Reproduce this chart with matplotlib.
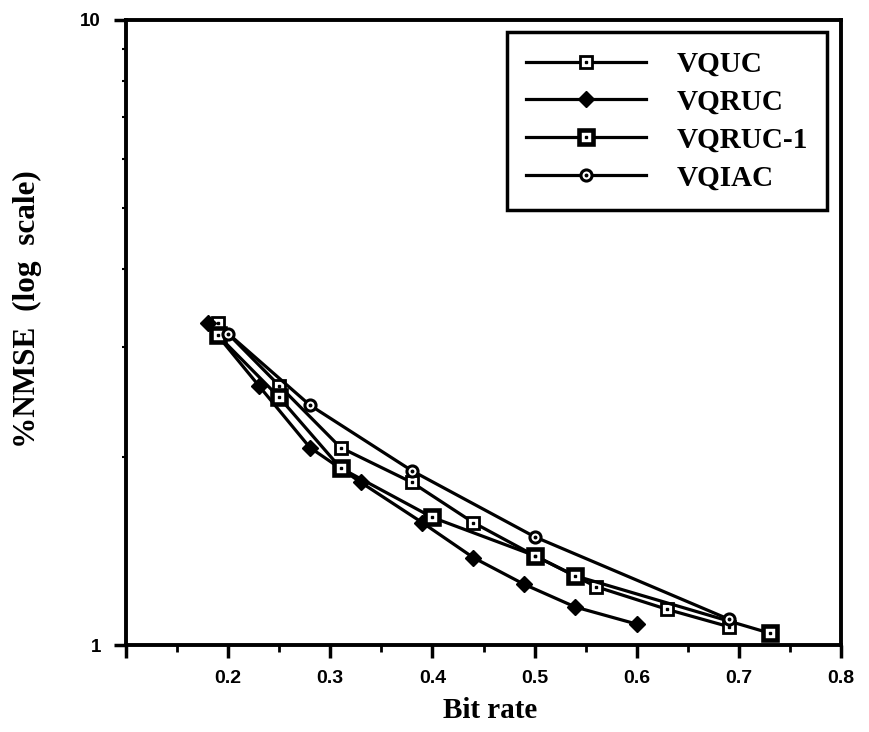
import matplotlib
matplotlib.use('Agg')
from matplotlib import pyplot as plt
from matplotlib.ticker import FixedLocator, NullFormatter, LogLocator

# values (bit rate, %NMSE)
vquc_x = [0.19, 0.25, 0.31, 0.38, 0.44, 0.50, 0.56, 0.63, 0.69]
vquc_y = [3.27, 2.60, 2.07, 1.82, 1.57, 1.39, 1.24, 1.14, 1.07]

vqruc_x = [0.18, 0.23, 0.28, 0.33, 0.39, 0.44, 0.49, 0.54, 0.60]
vqruc_y = [3.27, 2.60, 2.07, 1.82, 1.57, 1.38, 1.25, 1.15, 1.08]

vqruc1_x = [0.19, 0.25, 0.31, 0.40, 0.50, 0.54, 0.73]
vqruc1_y = [3.13, 2.49, 1.92, 1.60, 1.39, 1.29, 1.045]

vqiac_x = [0.20, 0.28, 0.38, 0.50, 0.69]
vqiac_y = [3.15, 2.42, 1.90, 1.49, 1.10]

x_ticks = [0.1, 0.2, 0.3, 0.4, 0.5, 0.6, 0.7, 0.8]
x_tick_labels = ['', '0.2', '0.3', '0.4', '0.5', '0.6', '0.7', '0.8']

serif = 'Liberation Serif'
sans = 'Liberation Sans'

fig = plt.figure(figsize=(8.69, 7.32), dpi=100)
ax = fig.add_axes([126 / 869, 1 - 645 / 732, 715 / 869, 625 / 732])

lw = 2.3
handles = []

# VQUC: open square with a dot
l1, = ax.plot(vquc_x, vquc_y, color='black', lw=lw, marker='s', ms=8.5,
              mfc='white', mec='black', mew=2, zorder=3)
d1, = ax.plot(vquc_x, vquc_y, ls='none', marker='s', ms=2, color='black', zorder=4)
handles.append((l1, d1))

# VQRUC: filled diamond
l2, = ax.plot(vqruc_x, vqruc_y, color='black', lw=lw, marker='D', ms=8,
              mfc='black', mec='black', zorder=3)
handles.append(l2)

# VQRUC-1: heavy square with a small white centre
l3, = ax.plot(vqruc1_x, vqruc1_y, color='black', lw=lw, marker='s', ms=9.5,
              mfc='white', mec='black', mew=3.3, zorder=3)
d3, = ax.plot(vqruc1_x, vqruc1_y, ls='none', marker='s', ms=1.5, color='black', zorder=4)
handles.append((l3, d3))

# VQIAC: small open circle with a dot
l4, = ax.plot(vqiac_x, vqiac_y, color='black', lw=lw, marker='o', ms=8,
              mfc='white', mec='black', mew=2.2, zorder=3)
d4, = ax.plot(vqiac_x, vqiac_y, ls='none', marker='o', ms=1.8, color='black', zorder=4)
handles.append((l4, d4))

ax.set_yscale('log')
ax.set_ylim(1, 10)
ax.set_xlim(0.1, 0.8)

ax.set_xticks(x_ticks)
ax.set_xticklabels(x_tick_labels, fontfamily=sans, fontsize=14, fontweight='bold')
ax.xaxis.set_minor_locator(FixedLocator([0.15, 0.25, 0.35, 0.45, 0.55, 0.65, 0.75]))
ax.set_yticks([1, 10])
ax.set_yticklabels(['1', '10'], fontfamily=sans, fontsize=13.5, fontweight='bold')
ax.yaxis.set_minor_locator(LogLocator(base=10, subs=range(2, 10)))
ax.yaxis.set_minor_formatter(NullFormatter())

ax.tick_params(axis='x', which='major', direction='out', length=9, width=2.5, pad=9)
ax.tick_params(axis='x', which='minor', direction='out', length=5, width=2)
ax.tick_params(axis='y', which='major', direction='out', length=9, width=2.5, pad=9)
ax.tick_params(axis='y', which='minor', direction='out', length=3, width=1.5)

for s in ax.spines.values():
    s.set_linewidth(2.8)

ax.set_xlabel('Bit rate', fontfamily=serif, fontweight='bold', fontsize=21)
ax.xaxis.set_label_coords(0.509, -0.083)
ax.set_ylabel('%NMSE  (log  scale)', fontfamily=serif, fontweight='bold', fontsize=22.5)
ax.yaxis.set_label_coords(-0.117, 0.538)

leg = ax.legend(handles, ['VQUC', 'VQRUC', 'VQRUC-1', 'VQIAC'],
                loc='upper right', bbox_to_anchor=(0.98, 0.981), borderaxespad=0,
                prop={'family': serif, 'weight': 'bold', 'size': 21},
                handlelength=4.1, handletextpad=1.05, labelspacing=0.37,
                borderpad=0.65, fancybox=False, framealpha=1)
leg.get_frame().set_edgecolor('black')
leg.get_frame().set_linewidth(2.5)

fig.savefig('out.png', dpi=100)
